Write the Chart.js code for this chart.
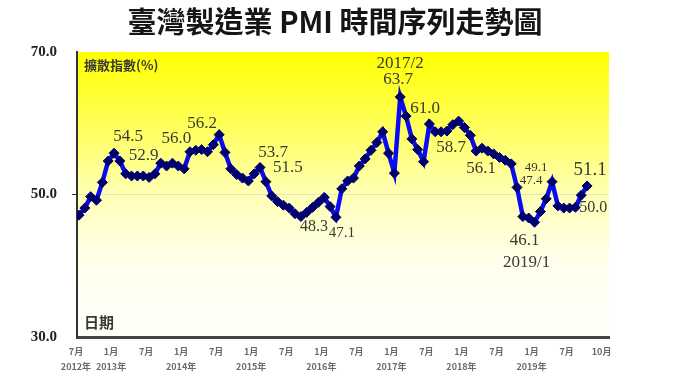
<!DOCTYPE html>
<html>
<head>
<meta charset="utf-8">
<script src="https://cdn.jsdelivr.net/npm/chart.js@4.4.1/dist/chart.umd.min.js"></script>
<style>
  html, body { margin: 0; padding: 0; background: #fff; }
  #wrap { width: 680px; height: 382px; position: relative; }
</style>
</head>
<body>
<div id="wrap"><canvas id="grafico"></canvas></div>
<script>
// 月份 2012/7 ~ 2019/10
const meses = [];
for (let a = 2012; a <= 2019; a++) {
  for (let m = 1; m <= 12; m++) {
    if (a === 2012 && m < 7) continue;
    if (a === 2019 && m > 10) continue;
    meses.push(a + '/' + m);
  }
}

// PMI 擴散指數
const pmi = [
  47.1, 48.1, 49.7, 49.2, 51.7, 54.7,             // 2012/7-12
  55.8, 54.7, 52.9, 52.6, 52.6, 52.6,             // 2013/1-6
  52.4, 52.9, 54.4, 54.0, 54.4, 54.0,             // 2013/7-12
  53.6, 56.0, 56.2, 56.3, 56.0, 57.0,             // 2014/1-6
  58.4, 55.9, 53.6, 52.8, 52.3, 51.9,             // 2014/7-12
  52.9, 53.8, 51.8, 49.8, 49.0, 48.5,             // 2015/1-6
  48.1, 47.3, 46.9, 47.5, 48.2, 48.9,             // 2015/7-12
  49.6, 48.3, 46.8, 50.8, 51.9, 52.3,             // 2016/1-6
  54.0, 55.0, 56.2, 57.3, 58.8, 55.8,             // 2016/7-12
  53.0, 63.7, 61.0, 57.8, 56.3, 54.6,             // 2017/1-6
  59.9, 58.8, 58.8, 58.9, 59.8, 60.3,             // 2017/7-12
  59.4, 58.3, 56.1, 56.5, 56.1, 55.7,             // 2018/1-6
  55.2, 54.8, 54.3, 51.0, 46.9, 46.7,             // 2018/7-12
  46.1, 47.6, 49.4, 51.8, 48.4, 48.1,             // 2019/1-6
  48.1, 48.2, 49.9, 51.2                          // 2019/7-10
];

// 橫軸刻度文字 (每六個月)
const rotulosX = [
  ['7月', '2012年'], ['1月', '2013年'], ['7月', ''], ['1月', '2014年'],
  ['7月', ''], ['1月', '2015年'], ['7月', ''], ['1月', '2016年'],
  ['7月', ''], ['1月', '2017年'], ['7月', ''], ['1月', '2018年'],
  ['7月', ''], ['1月', '2019年'], ['7月', ''], ['10月', '']
];
const valoresY = [30, 50, 70];

// 標註
const notasMes = ['2013/1', '2013/4', '2013/11', '2014/7', '2015/2', '2015/3', '2015/9', '2016/3',
  '2017/2', '2017/2', '2017/3', '2017/8', '2018/3', '2019/4', '2019/3', '2019/1', '2019/1', '2019/9', '2019/10'];
const notasTexto = ['54.5', '52.9', '56.0', '56.2', '53.7', '51.5', '48.3', '47.1',
  '2017/2', '63.7', '61.0', '58.7', '56.1', '49.1', '47.4', '46.1', '2019/1', '50.0', '51.1'];

const titulo = '臺灣製造業 PMI 時間序列走勢圖';

// deslocamento [dx, dy, tamanho] de cada nota
const notasPos = [
  [14, -17, 17], [12, -20, 17], [4, -25, 17], [-17, -11, 17], [13, -15, 17], [22, -14, 17],
  [13, 10, 16], [6, 16, 15], [0, -33, 17], [-2, -17, 17], [19, -8, 17], [16, 16, 17],
  [5, 17, 17], [-16, -14, 13], [-15, -18, 13], [-10, 18, 17], [-8, 40, 17], [12, 13, 16], [3, -16, 19]
];

const pontos = pmi.map((v, i) => ({ x: i, y: v }));

const fundo = {
  id: 'fundo',
  beforeDraw(chart) {
    const { ctx, chartArea: a } = chart;
    const g = ctx.createLinearGradient(0, a.top, 0, a.bottom);
    g.addColorStop(0, '#ffff00');
    g.addColorStop(0.2, '#ffff45');
    g.addColorStop(0.5, '#ffffb5');
    g.addColorStop(0.75, '#ffffee');
    g.addColorStop(1, '#fffffa');
    ctx.save();
    ctx.fillStyle = g;
    ctx.fillRect(a.left, a.top, a.right - a.left, a.bottom - a.top);
    ctx.restore();
  }
};

const textos = {
  id: 'textos',
  afterDraw(chart) {
    const { ctx, chartArea: a, scales } = chart;
    ctx.save();
    ctx.fillStyle = '#151515';
    ctx.font = 'bold 29px "Noto Sans CJK TC"';
    ctx.textAlign = 'center';
    ctx.textBaseline = 'middle';
    ctx.fillText(titulo, 335, 22);

    ctx.fillStyle = '#3a3a30';
    ctx.textAlign = 'left';
    ctx.font = 'bold 13px "Noto Sans CJK TC"';
    ctx.fillText('擴散指數(%)', a.left + 7, a.top + 13);
    ctx.font = 'bold 15px "Noto Sans CJK TC"';
    ctx.fillText('日期', a.left + 7, a.bottom - 15);

    ctx.fillStyle = '#3a3a30';
    ctx.textAlign = 'center';
    notasTexto.forEach((t, k) => {
      const i = meses.indexOf(notasMes[k]);
      const [dx, dy, tam] = notasPos[k];
      const px = scales.x.getPixelForValue(i);
      const py = scales.y.getPixelForValue(pmi[i]);
      ctx.font = tam + 'px "Liberation Serif"';
      ctx.fillText(t, px + dx, py + dy);
    });
    ctx.restore();
  }
};

new Chart(document.getElementById('grafico'), {
  type: 'line',
  data: {
    datasets: [{
      data: pontos,
      borderColor: '#0a0af5',
      borderWidth: 4.5,
      pointStyle: 'rectRot',
      pointRadius: 5,
      pointBackgroundColor: '#00006e',
      pointBorderColor: '#00006e',
      pointBorderWidth: 1,
      tension: 0
    }]
  },
  options: {
    responsive: true,
    maintainAspectRatio: false,
    animation: false,
    layout: { padding: { left: 0, top: 52, right: 71, bottom: 0 } },
    plugins: { legend: { display: false }, tooltip: { enabled: false } },
    scales: {
      x: {
        type: 'linear',
        min: -0.34,
        max: 90.75,
        afterBuildTicks(scale) {
          scale.ticks = rotulosX.map((_, k) => ({ value: k * 6 }));
        },
        afterFit(scale) { scale.height = 45; },
        grid: { display: false, drawTicks: false },
        border: { display: true, color: '#444', width: 3 },
        ticks: {
          autoSkip: false,
          maxRotation: 0,
          padding: 7,
          labelOffset: -3,
          color: '#6a6a6a',
          font: { family: '"Noto Sans CJK TC"', size: 9, weight: 'bold', lineHeight: 1.65 },
          callback: (v, k) => rotulosX[k]
        }
      },
      y: {
        min: 30,
        max: 70,
        afterBuildTicks(scale) {
          scale.ticks = valoresY.map(v => ({ value: v }));
        },
        afterFit(scale) { scale.width = 77; },
        grid: {
          color: c => (c.tick && c.tick.value === 50 ? 'rgba(215,215,170,0.6)' : 'rgba(0,0,0,0)'),
          tickColor: c => (c.tick && c.tick.value === 50 ? '#333' : 'rgba(0,0,0,0)'),
          tickLength: 5,
          lineWidth: 1
        },
        border: { display: true, color: '#333', width: 2 },
        ticks: {
          padding: 15,
          color: '#222',
          font: { family: '"Liberation Serif"', size: 15, weight: 'bold' },
          callback: v => v.toFixed(1)
        }
      }
    }
  },
  plugins: [fundo, textos]
});
</script>
</body>
</html>
